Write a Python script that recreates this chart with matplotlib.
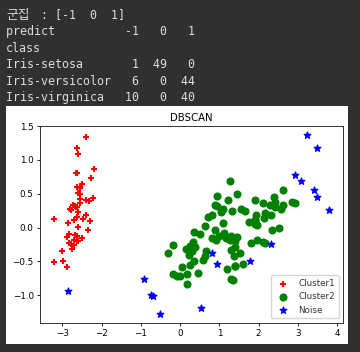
import matplotlib
matplotlib.use("Agg")
import matplotlib.pyplot as plt
from matplotlib.patches import Rectangle

# PCA coordinates
cluster1_x = [-2.68, -2.71, -2.89, -2.75, -2.73, -2.28, -2.82, -2.63, -2.89, -2.67,
              -2.51, -2.61, -2.79, -3.22, -2.64, -2.39, -2.62, -2.65, -2.20, -2.59,
              -2.31, -2.54, -3.22, -2.30, -2.36, -2.51, -2.47, -2.56, -2.64, -2.63,
              -2.59, -2.41, -2.65, -2.60, -2.64, -2.87, -2.63, -2.80, -2.98, -2.59,
              -2.77, -3.00, -2.41, -2.21, -2.71, -2.54, -2.84, -2.54, -2.70]
cluster1_y = [0.32, -0.18, -0.14, -0.32, 0.33, 0.74, -0.09, 0.16, -0.58, -0.11,
              0.65, 0.01, -0.24, -0.51, 1.18, 1.34, 0.81, 0.31, 0.87, 0.51,
              0.39, 0.43, 0.13, 0.10, -0.04, -0.15, 0.13, 0.37, 0.31, -0.20,
              -0.20, 0.41, 0.81, 1.09, -0.12, 0.07, 0.60, 0.27, -0.49, 0.23,
              0.26, -0.34, 0.19, 0.44, -0.25, 0.50, -0.23, 0.58, 0.11]

cluster2_x = [1.28, 0.93, 1.46, 0.18, 1.09, 0.64, 1.10, 1.04, -0.01, 0.51,
              0.26, 0.98, -0.17, 0.93, 0.66, 0.24, 0.05, 1.12, 0.36, 1.30,
              0.92, 0.71, 0.90, 1.33, 1.56, 0.81, -0.31, -0.07, -0.19, 0.14,
              1.38, 0.59, 0.81, 1.22, 0.25, 0.17, 0.46, 0.89, 0.23, 0.36,
              0.33, 0.38, 0.64, 0.30,
              2.53, 1.41, 2.62, 1.97, 2.35, 2.93, 1.66, 1.80, 2.17, 1.34,
              1.59, 1.90, 1.95, 1.30, 2.43, 1.20, 1.39, 2.28, 2.61, 1.26,
              1.29, 2.12, 2.39, 2.84, 2.16, 1.44, 2.14, 1.91, 1.17, 2.11,
              2.31, 1.92, 1.41, 2.56, 2.42, 1.94, 1.53, 1.76, 1.90, 1.39]
cluster2_y = [0.69, 0.32, 0.50, -0.83, 0.07, -0.42, 0.28, 0.23, -0.72, -0.10,
              -0.55, -0.12, -0.25, 0.47, -0.35, -0.33, -0.58, -0.08, -0.07, -0.33,
              -0.18, 0.15, 0.33, 0.24, 0.27, -0.16, -0.37, -0.71, -0.68, -0.31,
              -0.42, -0.48, 0.19, 0.41, -0.27, -0.68, -0.67, -0.03, -0.40, -0.50,
              -0.21, -0.29, 0.02, -0.35,
              -0.01, -0.57, 0.34, -0.18, -0.04, 0.36, 0.24, -0.22, 0.22, -0.78,
              -0.54, 0.12, 0.04, -0.76, 0.38, -0.61, -0.20, 0.33, 0.56, -0.18,
              -0.12, -0.21, 0.46, 0.38, -0.22, -0.14, 0.14, 0.05, -0.16, 0.37,
              0.18, 0.41, -0.57, 0.28, 0.30, 0.19, -0.38, 0.08, 0.12, -0.28]

noise_x = [-2.85, -0.75, -0.51, 0.94, 0.82, -0.70, -0.91, 3.40, 0.52,
           2.32, 2.92, 3.49, 3.80, 3.50, 3.23, 1.78, 3.08]
noise_y = [-0.94, -1.00, -1.27, -0.54, -0.37, -1.01, -0.76, 0.55, -1.19,
           -0.24, 0.78, 1.18, 0.26, 0.46, 1.37, -0.50, 0.69]

console_head = "군집"
console_lines = [
    " : [-1  0  1]",
    "predict          -1   0   1",
    "class",
    "Iris-setosa       1  49   0",
    "Iris-versicolor   6   0  44",
    "Iris-virginica   10   0  40",
]

W, H = 360, 352
fig = plt.figure(figsize=(W / 100, H / 100), dpi=100, facecolor="#303030")

mono = ["DejaVu Sans Mono", "Noto Sans CJK KR"]
txt_color = "#dcdcdc"
baselines = [18.5, 35.3, 52.0, 68.5, 85.0, 101.5]
char_w = 6.9
fig.text(6 / W, 1 - baselines[0] / H, console_head, family=["Noto Sans CJK KR"],
         fontsize=9.2, color=txt_color, va="baseline")
for i, line in enumerate(console_lines):
    x0 = 6 + (4 * char_w if i == 0 else 0)
    fig.text(x0 / W, 1 - baselines[i] / H, line, family=mono, fontsize=8.4,
             color=txt_color, va="baseline")

# white panel that holds the plot
fig.patches.append(Rectangle((6 / W, 1 - 343.5 / H), 342 / W, 237.5 / H,
                             transform=fig.transFigure, facecolor="white",
                             edgecolor="none", zorder=-1))

ax = fig.add_axes([40 / W, 1 - 322.5 / H, 303 / W, 196.5 / H])
ax.scatter(cluster1_x, cluster1_y, c="r", marker="+", s=20, linewidths=1.5, label="Cluster1")
ax.scatter(cluster2_x, cluster2_y, c="g", marker="o", s=23, label="Cluster2")
ax.scatter(noise_x, noise_y, c="b", marker="*", s=24, label="Noise")

ax.set_title("DBSCAN", fontsize=7.3, pad=3.5)
ax.set_xticks(range(-3, 5))
ax.set_yticks([-1.0, -0.5, 0.0, 0.5, 1.0, 1.5])
ax.tick_params(labelsize=6.3, length=2.5, width=0.6, pad=2)
for sp in ax.spines.values():
    sp.set_linewidth(0.7)
    sp.set_color("#333333")
leg = ax.legend(loc="lower right", fontsize=6.3, scatterpoints=1)
for t in leg.get_texts():
    t.set_color("#333333")

fig.savefig("out.png", dpi=100, facecolor=fig.get_facecolor())
